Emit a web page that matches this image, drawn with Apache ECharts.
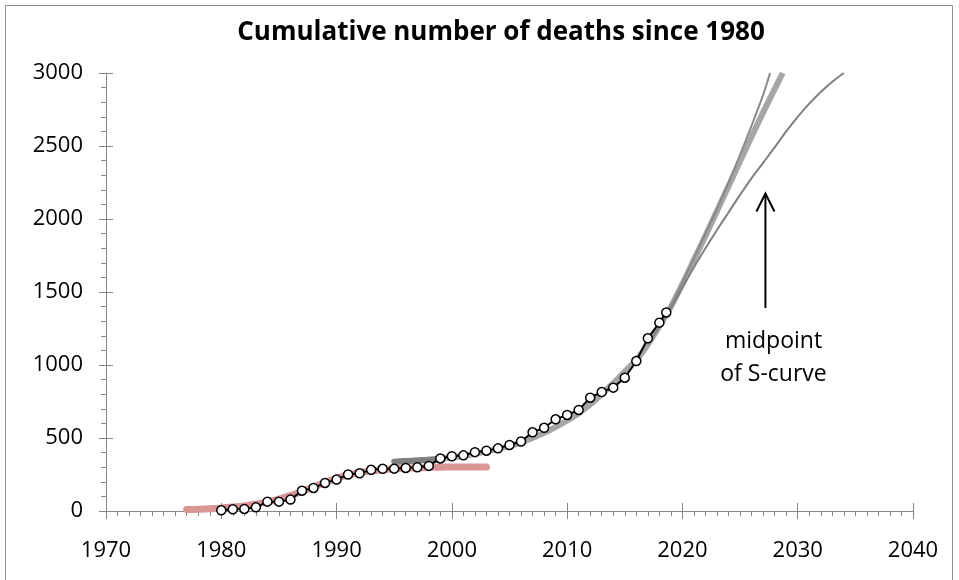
<!DOCTYPE html>
<html>
<head>
<meta charset="utf-8">
<script src="https://cdn.jsdelivr.net/npm/echarts@6/dist/echarts.min.js"></script>
<style>
html,body{margin:0;padding:0;background:#fff;}
#c{width:959px;height:580px;}
</style>
</head>
<body>
<div id="c"></div>
<script>
// ---- data ----
const obsYears = [1980,1981,1982,1983,1984,1985,1986,1987,1988,1989,1990,1991,1992,1993,1994,1995,1996,1997,1998,1999,2000,2001,2002,2003,2004,2005,2006,2007,2008,2009,2010,2011,2012,2013,2014,2015,2016,2017,2018,2018.6];
const obsDeaths = [5,12,14,25,64,64,78,139,158,192,215,250,258,282,289,290,295,299,309,360,375,381,403,413,429,452,476,539,570,628,658,692,776,815,845,913,1027,1183,1290,1360];

// first S-curve fit (pink)
const pinkYears = [1977,1978,1979,1980,1981,1982,1983,1984,1985,1986,1987,1988,1989,1990,1991,1992,1993,1994,1995,1996,1997,1998,1999,2000,2001,2002,2003];
const pinkDeaths = [10,12,15,20,27,35,46,62,82,106,134,164,195,224,247,263,275,283,289,293,296,298,300,301,302,302,302];

// early fit start (dark grey)
const darkYears = [1995,1996,1997,1998,1999];
const darkDeaths = [338,342,346,350,355];

// broad fit band (light grey)
const bandYears = [1995,1996,1997,1998,1999,2000,2001,2002,2003,2004,2005,2006,2007,2008,2009,2010,2011,2012,2013,2014,2015,2016,2017,2018,2019,2020,2021,2022,2023,2024,2025,2026,2027,2028,2028.7];
const bandDeaths = [335,340,346,352,358,366,378,392,408,425,445,470,500,535,575,620,670,730,800,875,955,1035,1140,1265,1400,1555,1720,1885,2055,2225,2395,2565,2730,2890,3000];

// steeper fit (thin grey)
const steepYears = [2018,2019,2020,2021,2022,2023,2024,2025,2026,2027,2027.6];
const steepDeaths = [1270,1405,1565,1730,1900,2070,2250,2440,2640,2850,3000];

// second S-curve (thin grey)
const sYears = [2017,2018,2019,2020,2021,2022,2023,2024,2025,2026,2027,2028,2029,2030,2031,2032,2033,2034];
const sDeaths = [1140,1262,1390,1530,1670,1800,1925,2045,2165,2280,2385,2490,2600,2700,2790,2870,2940,3000];

// annotation
const arrowX = 2027.2, arrowFrom = 1390, arrowTo = 2175;
const noteLines = ['midpoint','of S-curve'];
const noteX = 2027.9, noteY = [1158, 932];

const xTicks = {min:1970, max:2040, interval:10};
const yTicks = {min:0, max:3000, interval:500};

const zip = (a,b) => a.map((v,i)=>[v,b[i]]);
const FONT = 'Open Sans';
const AX = '#868686';
const plain = v => String(v);

const chart = echarts.init(document.getElementById('c'));
const baseX = {
  type:'value', min:xTicks.min, max:xTicks.max, interval:xTicks.interval,
  splitLine:{show:false}, position:'bottom'
};
const baseY = {
  type:'value', min:yTicks.min, max:yTicks.max, interval:yTicks.interval,
  splitLine:{show:false}, position:'left'
};
chart.setOption({
  animation:false,
  backgroundColor:'#fff',
  title:{
    text:'Cumulative number of deaths since 1980',
    left:496, top:15, textAlign:'center',
    textStyle:{fontFamily:FONT, fontWeight:'bold', fontSize:26, color:'#000'}
  },
  graphic:[{type:'rect', shape:{x:5.5,y:5.5,width:947,height:600}, style:{fill:'none', stroke:'#8c8c8c', lineWidth:1}, silent:true, z:-1}],
  grid:{left:106, right:46, top:73, bottom:69},
  xAxis:[
    Object.assign({}, baseX, {
      axisLine:{show:true, lineStyle:{color:AX, width:1}},
      axisTick:{show:true, inside:false, length:8, lineStyle:{color:AX}},
      minorTick:{show:true, splitNumber:10, length:5, lineStyle:{color:AX}},
      axisLabel:{show:true, margin:29, fontFamily:FONT, fontSize:22, color:'#000', formatter:plain}
    }),
    Object.assign({}, baseX, {
      axisLine:{show:false},
      axisTick:{show:true, inside:true, length:8, lineStyle:{color:AX}},
      axisLabel:{show:false}
    })
  ],
  yAxis:[
    Object.assign({}, baseY, {
      axisLine:{show:true, lineStyle:{color:AX, width:1}},
      axisTick:{show:true, inside:false, length:7, lineStyle:{color:AX}},
      minorTick:{show:true, splitNumber:5, length:5, lineStyle:{color:AX}},
      axisLabel:{show:true, margin:23, fontFamily:FONT, fontSize:22, color:'#000', formatter:plain}
    }),
    Object.assign({}, baseY, {
      axisLine:{show:false},
      axisTick:{show:true, inside:true, length:7, lineStyle:{color:AX}},
      axisLabel:{show:false}
    })
  ],
  series:[
    {type:'line', data:zip(pinkYears,pinkDeaths), showSymbol:false, smooth:0.3,
     lineStyle:{color:'#d99694', width:7, cap:'round'}, z:1},
    {type:'line', data:zip(bandYears,bandDeaths), showSymbol:false, smooth:0.3,
     lineStyle:{color:'#a6a6a6', width:6}, z:2},
    {type:'line', data:zip(darkYears,darkDeaths), showSymbol:false, smooth:0.3,
     lineStyle:{color:'#7f7f7f', width:6, cap:'round'}, z:3},
    {type:'line', data:zip(steepYears,steepDeaths), showSymbol:false, smooth:0.3,
     lineStyle:{color:'#8a8a8a', width:2}, z:3},
    {type:'line', data:zip(sYears,sDeaths), showSymbol:false, smooth:0.3,
     lineStyle:{color:'#808080', width:2}, z:3},
    {type:'line', data:zip(obsYears,obsDeaths), symbol:'circle', symbolSize:9,
     lineStyle:{color:'#000', width:2},
     itemStyle:{color:'#fff', borderColor:'#000', borderWidth:1.5}, z:5},
    {type:'custom', data:[[arrowX, arrowFrom, arrowTo]], z:6,
     renderItem:function(params, api){
       const p0 = api.coord([api.value(0), api.value(1)]);
       const p1 = api.coord([api.value(0), api.value(2)]);
       const children = [
         {type:'line', shape:{x1:p0[0],y1:p0[1],x2:p1[0],y2:p1[1]}, style:{stroke:'#000', lineWidth:2}},
         {type:'polyline', shape:{points:[[p1[0]-9,p1[1]+18],[p1[0],p1[1]],[p1[0]+9,p1[1]+18]]}, style:{stroke:'#000', fill:'none', lineWidth:2}}
       ];
       noteLines.forEach((t,i)=>{
         const q = api.coord([noteX, noteY[i]]);
         children.push({type:'text', x:q[0], y:q[1], style:{text:t, fontFamily:FONT, fontSize:23, fill:'#000', align:'center', verticalAlign:'middle'}});
       });
       return {type:'group', children:children};
     }}
  ]
});
</script>
</body>
</html>
